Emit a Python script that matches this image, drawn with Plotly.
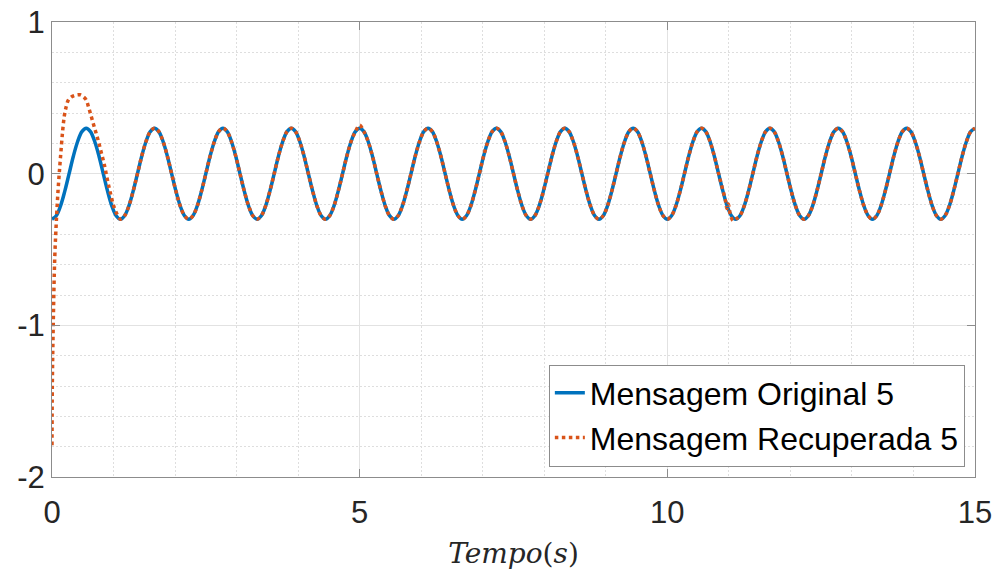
import plotly.graph_objects as go

# Original message (f = 0.9 Hz): trough instants and the shape of one period
trough_times = [0.000, 1.111, 2.222, 3.333, 4.444, 5.556, 6.667, 7.778,
                8.889, 10.000, 11.111, 12.222, 13.333, 14.444]
cycle_offsets = [0.000, 0.069, 0.139, 0.208, 0.278, 0.347, 0.417, 0.486,
                 0.556, 0.625, 0.694, 0.764, 0.833, 0.903, 0.972, 1.042]
cycle_values = [-0.300, -0.277, -0.212, -0.115, 0.000, 0.115, 0.212, 0.277,
                0.300, 0.277, 0.212, 0.115, 0.000, -0.115, -0.212, -0.277]
t_end = 15.0

# Recovered message: start-up transient of the receiver
t_rec_start = [0.000, 0.005, 0.020, 0.045, 0.075, 0.100, 0.125, 0.150, 0.175,
               0.200, 0.230, 0.265, 0.310, 0.360, 0.410, 0.455, 0.500, 0.550,
               0.600, 0.650, 0.700, 0.750, 0.800, 0.850, 0.900, 0.950, 1.000,
               1.060]
v_rec_start = [-1.79, -1.40, -1.00, -0.55, -0.28, -0.10, 0.04, 0.17, 0.29,
               0.38, 0.44, 0.485, 0.505, 0.515, 0.52, 0.52, 0.51, 0.49,
               0.43, 0.36, 0.29, 0.22, 0.14, 0.06, -0.04, -0.13, -0.21,
               -0.27]

# Recovered message: small deviations after the transient
t_rec_glitch = [5.000, 10.940, 10.970, 10.990, 11.030, 11.070]
v_rec_glitch = [0.32, -0.17, -0.23, -0.20, -0.28, -0.31]

x_ticks = [0, 5, 10, 15]
y_ticks = [-2, -1, 0, 1]
y_tick_text = ["-2", "-1", "0", "1"]

# Assemble the original series period by period
t_orig, v_orig = [], []
for base in trough_times:
    for off, val in zip(cycle_offsets, cycle_values):
        t = round(base + off, 3)
        if t <= t_end + 1e-6:
            t_orig.append(t)
            v_orig.append(val)

# Recovered = transient, then the steady state, with the deviations in place
rec = dict(zip(t_rec_start, v_rec_start))
for t, v in zip(t_orig, v_orig):
    if t < 1.1:
        continue
    if any(abs(t - g) < 0.04 for g in t_rec_glitch):
        continue
    rec[t] = v
rec.update(zip(t_rec_glitch, v_rec_glitch))
t_rec = sorted(rec)
v_rec = [rec[t] for t in t_rec]

BLUE = "#0072BD"
ORANGE = "#D95319"
FONT = "Liberation Sans, Arial, sans-serif"
AXIS_GRAY = "#8c8c8c"

fig = go.Figure()
fig.add_trace(go.Scatter(
    x=t_orig, y=v_orig, mode="lines", name="Mensagem Original 5",
    line=dict(color=BLUE, width=3.5, shape="spline", smoothing=1.0),
))
fig.add_trace(go.Scatter(
    x=t_rec, y=v_rec, mode="lines", name="Mensagem Recuperada 5",
    line=dict(color=ORANGE, width=3.5, dash="dot", shape="spline", smoothing=1.0),
))

axis_common = dict(
    showline=True, linecolor=AXIS_GRAY, linewidth=1, mirror="ticks",
    ticks="inside", ticklen=8, tickcolor=AXIS_GRAY, tickwidth=1,
    showgrid=True, gridcolor="#e2e2e2", gridwidth=1,
    zeroline=False, automargin=False,
    tickfont=dict(family=FONT, size=31, color="#262626"),
)
minor_common = dict(showgrid=True, gridcolor="#dedede", griddash="2px,2px",
                    gridwidth=1, ticks="")

fig.update_xaxes(
    range=[0, 15], tickvals=x_ticks, ticklabelstandoff=8,
    minor=dict(dtick=1, **minor_common),
    title=dict(text="<i>Tempo</i>(<i>s</i>)",
               font=dict(family="DejaVu Serif, Liberation Serif, serif", size=28,
                         color="#262626"),
               standoff=14),
    **axis_common,
)
fig.update_yaxes(
    range=[-2, 1], tickvals=y_ticks, ticktext=y_tick_text,
    minor=dict(dtick=0.2, **minor_common),
    **axis_common,
)

fig.update_layout(
    width=998, height=571,
    margin=dict(l=52, r=23, t=22, b=94),
    paper_bgcolor="white", plot_bgcolor="white",
    font=dict(family=FONT, color="#262626"),
    showlegend=True,
    legend=dict(
        x=0.989, y=0.023, xanchor="right", yanchor="bottom",
        bgcolor="white", bordercolor=AXIS_GRAY, borderwidth=1,
        font=dict(family=FONT, size=32, color="#000000"),
        itemwidth=30,
    ),
)

fig.write_html("out.html")
